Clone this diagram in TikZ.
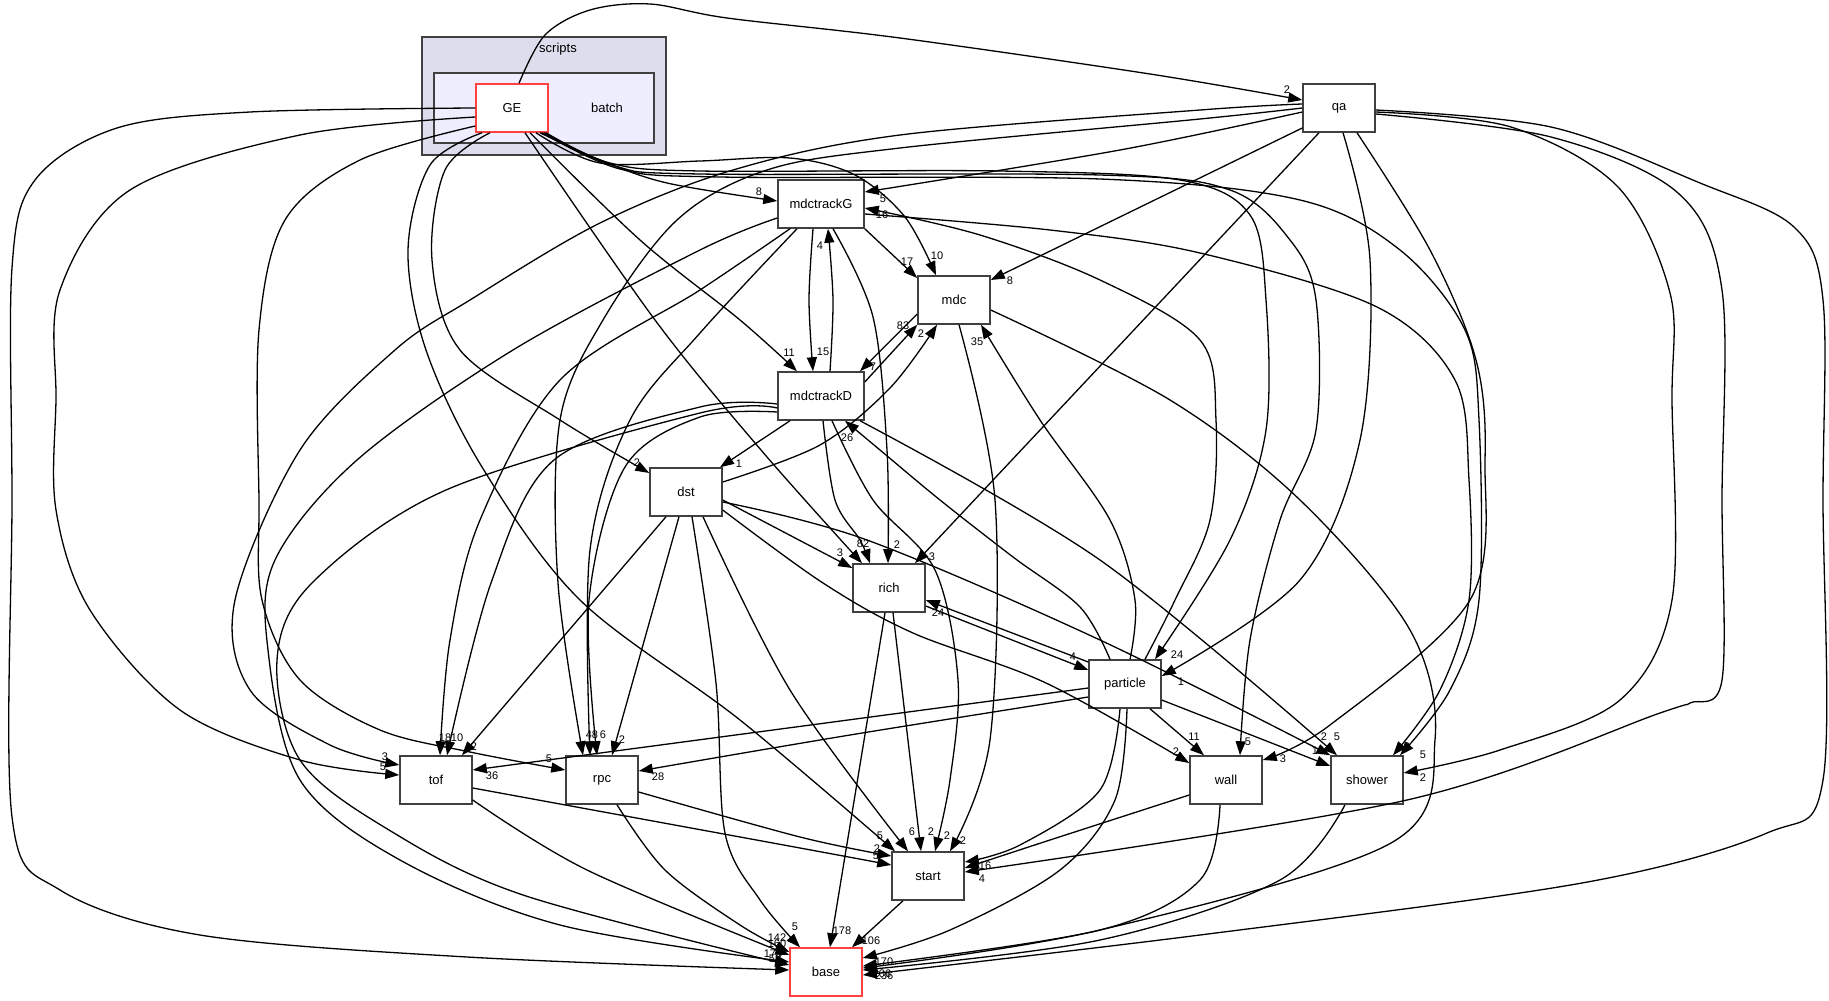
\documentclass[tikz,border=0pt]{standalone}
\usepackage{fontspec}
\setmainfont{Liberation Sans}
\usetikzlibrary{arrows.meta}
\definecolor{clOuter}{HTML}{DDDDEE}
\definecolor{clInner}{HTML}{EEEEFF}
\definecolor{nodeBorder}{HTML}{404040}
\definecolor{redBorder}{HTML}{FF4040}
\tikzset{
  box/.style={draw=nodeBorder, line width=1.5pt, fill=white, minimum width=72pt, minimum height=48pt, inner sep=0pt, font=\fontsize{13}{15}\selectfont},
  widebox/.style={box, minimum width=86pt},
  redbox/.style={box, draw=redBorder},
  cluster/.style={draw=nodeBorder, line width=1.5pt, inner sep=0pt},
  edge/.style={line width=1.3pt, -{Triangle[length=14pt,width=10pt]}},
  sm/.style={smooth, tension=0.55},
  lab/.style={font=\fontsize{11}{12}\selectfont, inner sep=0pt},
  ttl/.style={font=\fontsize{13}{15}\selectfont, inner sep=0pt}
}
\newcommand\mylab[3]{\node[lab] (#1) at (#2) {#3};}
\begin{document}
\begin{tikzpicture}[x=1pt,y=-1pt]
\fill[white] (0,0) rectangle (1829,1001);
\useasboundingbox (0,0) rectangle (1829,1001);
% clusters
\node[cluster, fill=clOuter, minimum width=244pt, minimum height=118pt] (scripts) at (544,96) {};
\node[ttl] (scriptslbl) at (558,49) {scripts};
\node[cluster, fill=clInner, minimum width=220pt, minimum height=70pt] (batch) at (544,108) {};
\node[ttl] (batchlbl) at (607,108) {batch};
% nodes
\node[redbox] (GE) at (512,108) {GE};
\node[box] (qa) at (1339,108) {qa};
\node[widebox] (mG) at (821,204) {mdctrackG};
\node[box] (mdc) at (954,300) {mdc};
\node[widebox] (mD) at (821,396) {mdctrackD};
\node[box] (dst) at (686,492) {dst};
\node[box] (rich) at (889,588) {rich};
\node[box] (particle) at (1125,684) {particle};
\node[box] (tof) at (436,780) {tof};
\node[box] (rpc) at (602,780) {rpc};
\node[box] (wall) at (1226,780) {wall};
\node[box] (shower) at (1367,780) {shower};
\node[box] (start) at (928,876) {start};
\node[redbox] (base) at (826,972) {base};

% ---- edges from GE
\draw[edge] plot[sm] coordinates {([xshift=7pt]GE.north) (545,35) (590,10) (650,4) (727,18) (900,38) (1150,74) ([yshift=8pt]qa.west)};
\draw[edge] plot[sm] coordinates {([xshift=28pt]GE.south) (600,160) (667,183) ([yshift=3pt]mG.west)};
\draw[edge] plot[sm] coordinates {([xshift=24pt]GE.south) (600,163) (700,161) (790,158) (855,175) (905,217) ([xshift=-18pt]mdc.north)};
\draw[edge] plot[sm] coordinates {([xshift=18pt]GE.south) (640,240) (740,320) ([xshift=-24pt]mD.north)};
\draw[edge] plot[sm] coordinates {([xshift=-22pt]GE.south) (445,170) (432,260) (460,350) (560,420) ([yshift=19pt]dst.west)};
\draw[edge] plot[sm] coordinates {([xshift=-30pt]GE.south) (430,165) (408,250) (426,350) (482,467) (580,600) (740,720) ([xshift=-33pt]start.north)};
\draw[edge] plot[sm] coordinates {([xshift=13pt]GE.south) (655,320) (761,450) ([xshift=-27pt]rich.north)};
\draw[edge] plot[sm] coordinates {(GE.west) (250,112) (117,128) (35,180) (12,268) (12,500) (12,817) (60,890) (200,935) (467,957) ([yshift=2pt]base.west)};
\draw[edge] plot[sm] coordinates {([yshift=-9pt]GE.west) (300,135) (130,190) (60,290) (56,400) (56,510) (90,610) (180,710) (300,760) ([yshift=5pt]tof.west)};
\draw[edge] plot[sm] coordinates {([yshift=-18pt]GE.west) (360,160) (285,220) (259,330) (259,500) (262,600) (300,680) (380,730) (470,752) ([yshift=10pt]rpc.west)};
\draw[edge] plot[sm] coordinates {([xshift=34pt]GE.south) (610,163) (700,171) (1000,171) (1180,180) (1250,215) (1266,300) (1266,430) (1230,540) ([xshift=30pt]particle.north)};
\draw[edge] plot[sm] coordinates {([xshift=32pt]GE.south) (615,166) (700,174) (1100,175) (1230,190) (1290,240) (1316,300) (1316,430) (1280,520) (1250,640) ([xshift=14pt]wall.north)};
\draw[edge] plot[sm] coordinates {([xshift=30pt]GE.south) (620,169) (720,177) (1100,179) (1300,200) (1400,250) (1465,330) (1479,420) (1479,600) (1450,690) ([xshift=33pt]shower.north)};

% ---- edges from qa
\draw[edge] plot[sm] coordinates {([yshift=-4pt]qa.west) (1120,150) ([yshift=12pt]mG.east)};
\draw[edge] ([yshift=-20pt]qa.west) -- ([yshift=20pt]mdc.east);
\draw[edge] ([xshift=-20pt]qa.south) -- ([xshift=26pt]rich.north);
\draw[edge] plot[sm] coordinates {([xshift=4pt]qa.south) (1370,260) (1360,440) (1300,580) ([yshift=8pt]particle.east)};
\draw[edge] plot[sm] coordinates {([xshift=18pt]qa.south) (1430,250) (1476,360) (1485,460) (1470,600) (1330,725) ([yshift=20pt]wall.east)};
\draw[edge] plot[sm] coordinates {([yshift=-4pt]qa.east) (1511,127) (1618,187) (1670,293) (1672,400) (1672,600) (1620,700) (1500,750) ([yshift=7pt]shower.east)};
\draw[edge] plot[sm] coordinates {([yshift=-6pt]qa.east) (1551,137) (1678,193) (1722,290) (1722,500) (1722,680) (1690,703) (1660,713) (1407,800) ([yshift=4pt]start.east)};
\draw[edge] plot[sm] coordinates {([yshift=-2pt]qa.east) (1551,127) (1700,183) (1794,227) (1823,300) (1823,500) (1823,780) (1767,833) (1582,883) (1200,935) ([yshift=-3pt]base.east)};
\draw[edge] plot[sm] coordinates {([yshift=4pt]qa.west) (1200,110) (900,135) (733,170) (600,223) (470,300) (395,350) (300,450) (235,600) (250,690) (330,745) ([yshift=15pt]tof.west)};
\draw[edge] plot[sm] coordinates {(qa.west) (1200,119) (900,148) (767,170) (677,220) (603,320) (560,420) (558,583) ([xshift=-19pt]rpc.north)};

% ---- edges from mdctrackG
\draw[edge] (mG.south east) -- ([yshift=22pt]mdc.west);
\draw[edge] plot[sm] coordinates {([xshift=-8pt]mG.south) (809,300) ([xshift=-8pt]mD.north)};
\draw[edge] plot[sm] coordinates {([xshift=12pt]mG.south) (873,317) (887,450) ([xshift=-1pt]rich.north)};
\draw[edge] plot[sm] coordinates {([xshift=-31pt]mG.south) (700,290) (560,380) (480,520) (450,640) ([xshift=4pt]tof.north)};
\draw[edge] plot[sm] coordinates {([xshift=-24pt]mG.south) (700,333) (630,420) (590,550) ([xshift=-12pt]rpc.north)};
\draw[edge] plot[sm] coordinates {([yshift=-14pt]mG.west) (700,250) (513,350) (357,460) (275,560) (268,650) (300,780) (400,860) (560,925) ([yshift=10pt]base.west)};
\draw[edge] plot[sm] coordinates {([yshift=-10pt]mG.east) (1050,230) (1200,253) (1377,307) (1455,380) (1469,480) (1469,600) (1440,690) ([xshift=26pt]shower.north)};

% ---- edges from mdctrackD
\draw[edge] plot[sm] coordinates {([xshift=9pt]mD.north) (833,300) ([xshift=7pt]mG.south)};
\draw[edge] ([yshift=14pt]mD.east) -- (mdc.south west);
\draw[edge] ([xshift=-31pt]mD.south) -- ([xshift=34pt]dst.north);
\draw[edge] plot[sm] coordinates {([xshift=2pt]mD.south) (835,500) (860,540) ([xshift=-19pt]rich.north)};
\draw[edge] plot[sm] coordinates {([xshift=11pt]mD.south) (873,500) (935,570) (958,680) (950,780) ([xshift=7pt]start.north)};
\draw[edge] plot[sm] coordinates {([xshift=39pt]mD.south) (1100,560) ([xshift=-30pt]shower.north)};
\draw[edge] plot[sm] coordinates {([yshift=-8pt]mD.west) (700,407) (554,460) (491,583) ([xshift=11pt]tof.north)};
\draw[edge] plot[sm] coordinates {([yshift=-16pt]mD.west) (700,417) (625,467) (589,600) ([xshift=-5pt]rpc.north)};
\draw[edge] plot[sm] coordinates {([yshift=-12pt]mD.west) (700,413) (446,490) (312,583) (277,660) (300,760) (389,830) (523,895) ([yshift=7pt]base.west)};

% ---- edges from mdc
\draw[edge] ([yshift=-14pt]mdc.west) -- ([xshift=39pt]mD.north);
\draw[edge] plot[sm] coordinates {([xshift=5pt]mdc.south) (995,500) (990,740) ([xshift=22pt]start.north)};
\draw[edge] plot[sm] coordinates {([yshift=-10pt]mdc.east) (1170,400) (1300,500) (1410,630) (1435,740) (1391,843) (1100,930) ([yshift=4pt]base.east)};

% ---- edges from dst
\draw[edge] plot[sm] coordinates {([yshift=10pt]dst.east) (820,445) (890,388) ([xshift=-17pt]mdc.south)};
\draw[edge] ([yshift=-8pt]dst.east) -- ([yshift=20pt]rich.west);
\draw[edge] ([xshift=-20pt]dst.south) -- ([xshift=26pt]tof.north);
\draw[edge] ([xshift=-7pt]dst.south) -- ([xshift=10pt]rpc.north);
\draw[edge] plot[sm] coordinates {([xshift=6pt]dst.south) (716,683) (725,833) (760,900) ([xshift=-26pt]base.north)};
\draw[edge] plot[sm] coordinates {([xshift=17pt]dst.south) (790,690) ([xshift=-20pt]start.north)};
\draw[edge] plot[sm] coordinates {([yshift=-18pt]dst.east) (823,583) (913,633) (1046,683) ([yshift=17pt]wall.west)};
\draw[edge] plot[sm] coordinates {([yshift=-10pt]dst.east) (867,540) (1100,640) (shower.north west)};

% ---- edges from rich
\draw[edge] ([yshift=-18pt]rich.east) -- ([yshift=14pt]particle.west);
\draw[edge] ([xshift=4pt]rich.south) -- ([xshift=-7pt]start.north);
\draw[edge] ([xshift=-4pt]rich.south) -- ([xshift=4pt]base.north);

% ---- edges from particle
\draw[edge] ([yshift=22pt]particle.west) -- ([yshift=-12pt]rich.east);
\draw[edge] plot[sm] coordinates {([xshift=-15pt]particle.north) (1080,607) (1013,557) (940,500) (880,450) ([xshift=24pt]mD.south)};
\draw[edge] plot[sm] coordinates {([xshift=5pt]particle.north) (1135,600) (1110,520) (1040,420) ([xshift=27pt]mdc.south)};
\draw[edge] plot[sm] coordinates {([xshift=20pt]particle.north) (1175,600) (1210,520) (1216,420) (1200,340) (1100,280) (980,235) ([yshift=-4pt]mG.east)};
\draw[edge] ([yshift=-4pt]particle.west) -- ([yshift=10pt]tof.east);
\draw[edge] plot[sm] coordinates {([yshift=-13pt]particle.west) (850,735) ([yshift=9pt]rpc.east)};
\draw[edge] ([xshift=25pt]particle.south) -- ([xshift=-22pt]wall.north);
\draw[edge] ([yshift=-16pt]particle.east) -- ([yshift=14pt]shower.west);
\draw[edge] plot[sm] coordinates {([xshift=-5pt]particle.south) (1100,790) (1020,845) ([yshift=14pt]start.east)};
\draw[edge] plot[sm] coordinates {([xshift=2pt]particle.south) (1115,800) (1060,870) (950,930) ([yshift=14pt]base.east)};

% ---- lower edges
\draw[edge] plot[sm] coordinates {([yshift=-8pt]tof.east) (800,848) ([yshift=11pt]start.west)};
\draw[edge] plot[sm] coordinates {([yshift=-20pt]tof.east) (587,870) ([yshift=17pt]base.west)};
\draw[edge] plot[sm] coordinates {([yshift=-12pt]rpc.east) (800,837) ([yshift=20pt]start.west)};
\draw[edge] plot[sm] coordinates {([xshift=15pt]rpc.south) (665,870) (740,925) ([yshift=20pt]base.west)};
\draw[edge] plot[sm] coordinates {([yshift=-15pt]wall.west) (1050,840) ([yshift=8pt]start.east)};
\draw[edge] plot[sm] coordinates {([xshift=-6pt]wall.south) (1200,880) (1100,930) ([yshift=6pt]base.east)};
\draw[edge] plot[sm] coordinates {([xshift=-22pt]shower.south) (1280,880) (1100,940) ([yshift=2pt]base.east)};
\draw[edge] ([xshift=-25pt]start.south) -- ([xshift=26pt]base.north);

% ---- labels
\mylab{l1}{1287,90}{2}
\mylab{l2}{759,192}{8}
\mylab{l3}{883,199}{5}
\mylab{l4}{882,215}{16}
\mylab{l5}{820,246}{4}
\mylab{l6}{907,262}{17}
\mylab{l7}{937,256}{10}
\mylab{l8}{1010,281}{8}
\mylab{l9}{903,326}{83}
\mylab{l10}{921,334}{2}
\mylab{l11}{977,342}{35}
\mylab{l12}{789,353}{11}
\mylab{l13}{823,352}{15}
\mylab{l14}{873,367}{7}
\mylab{l15}{847,438}{26}
\mylab{l16}{739,464}{1}
\mylab{l17}{637,463}{2}
\mylab{l18}{840,553}{3}
\mylab{l19}{863,544}{82}
\mylab{l20}{897,545}{2}
\mylab{l21}{932,557}{3}
\mylab{l22}{938,613}{24}
\mylab{l23}{1073,657}{4}
\mylab{l24}{1177,655}{24}
\mylab{l25}{1181,682}{1}
\mylab{l26}{445,738}{18}
\mylab{l27}{457,738}{10}
\mylab{l28}{474,747}{2}
\mylab{l29}{385,757}{3}
\mylab{l30}{383,767}{5}
\mylab{l31}{492,776}{36}
\mylab{l32}{549,759}{5}
\mylab{l33}{589,735}{4}
\mylab{l34}{595,735}{8}
\mylab{l35}{603,735}{6}
\mylab{l36}{622,740}{2}
\mylab{l37}{658,777}{28}
\mylab{l38}{1176,752}{2}
\mylab{l39}{1194,737}{11}
\mylab{l40}{1248,742}{5}
\mylab{l41}{1283,759}{3}
\mylab{l42}{1324,737}{2}
\mylab{l43}{1337,737}{5}
\mylab{l44}{1318,751}{16}
\mylab{l45}{1407,747}{8}
\mylab{l46}{1423,755}{5}
\mylab{l47}{1423,778}{2}
\mylab{l48}{880,836}{5}
\mylab{l49}{912,832}{6}
\mylab{l50}{931,832}{2}
\mylab{l51}{947,836}{2}
\mylab{l52}{963,841}{2}
\mylab{l53}{877,849}{2}
\mylab{l54}{876,856}{5}
\mylab{l55}{985,866}{16}
\mylab{l56}{982,879}{4}
\mylab{l57}{795,927}{5}
\mylab{l58}{842,931}{178}
\mylab{l59}{871,941}{106}
\mylab{l60}{777,938}{142}
\mylab{l61}{777,944}{160}
\mylab{l62}{773,954}{175}
\mylab{l63}{775,959}{58}
\mylab{l64}{884,962}{170}
\mylab{l65}{882,974}{206}
\mylab{l66}{884,976}{236}
\end{tikzpicture}
\end{document}
